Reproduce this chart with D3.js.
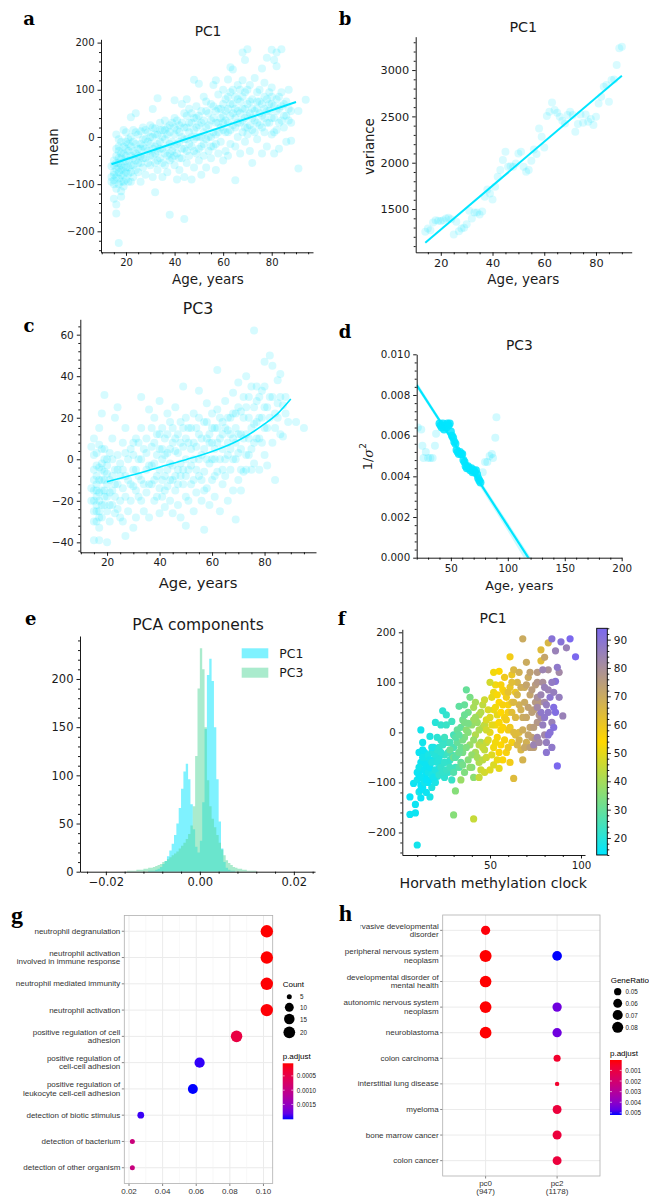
<!DOCTYPE html>
<html>
<head>
<meta charset="utf-8">
<script src="https://cdn.jsdelivr.net/npm/d3@7"></script>
<style>
body { margin: 0; background: #fff; }
svg { display: block; }
</style>
</head>
<body>
<svg id="fig" width="649" height="1197"></svg>
<script>
// ---------- data ----------
const CYAN = '#00e5ff'
const PC3_GREEN = '#55d79b'

// a: PC1 mean vs age  [age, pc1]
const aPoints = [
    [14,-85],[14,-62],[15,-100],[15,-75],[15,-50],[15,-92],[15,-131],[16,-143],[16,-162],[16,-110],[16,-68],[16,-40],[16,5],
    [17,-225],[17,-88],[17,-55],[17,-30],[17,-75],[17,-20],[18,-127],[18,-95],[18,-70],[18,-45],[18,-60],[18,-10],
    [19,-105],[19,-80],[19,-52],[19,-35],[19,15],[20,-90],[20,-65],[20,-40],[20,-25],[20,10],
    [21,-78],[21,-50],[21,-30],[21,-5],[22,-95],[22,-60],[22,-20],[22,42],[23,-85],[23,-45],[23,-10],[23,15],
    [24,-70],[24,-35],[24,50],[25,-55],[25,-25],[25,5],[26,-95],[26,-40],[26,-15],[26,12],[27,-65],[27,-20],[27,20],
    [28,-80],[28,-45],[28,-5],[29,-30],[29,10],[30,-60],[30,-15],[30,25],
    [31,59],[31,-85],[31,-40],[31,0],[32,-117],[32,-55],[32,-20],[32,18],[33,82],[33,-70],[33,-30],[33,5],
    [34,-10],[34,30],[34,-45],[35,-85],[35,-25],[35,15],[36,-60],[36,-5],[36,35],[37,-75],[37,-40],[37,20],
    [38,-165],[38,-50],[38,-15],[38,10],[39,-30],[39,30],[40,78],[40,-60],[40,-20],[40,5],[40,40],
    [41,-90],[41,-35],[41,15],[42,-70],[42,-10],[42,25],[43,-45],[43,0],[43,70],[44,-174],[44,-85],[44,-25],[44,20],
    [45,-55],[45,-5],[45,45],[45,80],[46,-40],[46,10],[46,60],[47,-90],[47,-20],[47,30],[48,121],[48,-65],[48,-5],[48,40],
    [49,-35],[49,20],[49,65],[50,113],[50,-50],[50,0],[50,45],
    [51,-80],[51,-20],[51,30],[52,-40],[52,10],[52,85],[53,-65],[53,-5],[53,55],[54,-30],[54,25],[55,-45],[55,0],[55,70],
    [56,110],[56,-20],[56,40],[57,120],[57,-70],[57,5],[57,55],[58,-35],[58,30],[58,90],[59,-10],[59,60],
    [60,-50],[60,15],[60,45],[60,100],
    [61,-30],[61,35],[61,80],[62,122],[62,-40],[62,10],[62,60],[63,148],[63,-15],[63,45],[63,95],[64,143],[64,25],[64,70],
    [65,-92],[65,-20],[65,40],[65,85],[66,0],[66,55],[66,110],[67,-35],[67,30],[67,75],[68,179],[68,10],[68,60],[68,120],
    [69,163],[69,-10],[69,40],[69,95],[70,186],[70,5],[70,20],[70,70],
    [71,-30],[71,50],[71,110],[72,-55],[72,15],[72,80],[73,35],[73,125],[74,-5],[74,60],[74,95],[75,25],[75,75],
    [76,145],[76,-35],[76,45],[77,10],[77,85],[77,115],[78,168],[78,-20],[78,55],[79,30],[79,95],[80,185],[80,5],[80,70],[80,105],
    [81,163],[81,-35],[81,40],[82,150],[82,179],[82,80],[82,15],[83,-25],[83,60],[84,186],[84,35],[84,95],
    [85,20],[85,70],[86,-10],[86,45],[87,100],[87,60],[88,-8],[88,30],[91,55],[91,-67],[94,79],
    [14,-95],[15,-60],[15,-80],[16,-85],[16,-55],[16,-25],[17,-100],[17,-65],[17,-45],[17,-5],[18,-80],[18,-35],[18,-115],
    [19,-95],[19,-65],[19,-20],[20,-75],[20,-50],[20,-10],[21,-95],[21,-65],[21,-15],[22,-75],[22,-40],[22,0],[23,-60],[23,-30],
    [24,-50],[24,-15],[24,10],[25,-75],[25,-40],[26,-55],[26,-25],[27,-45],[27,-5],[28,-25],[28,15],[29,-55],[29,-10],[30,-40],
    [30,0],[31,-25],[31,20],[32,-35],[32,5],[33,-50],[33,-15],[34,-25],[34,15],[35,-55],[35,0],[36,-35],[36,15],[37,-20],[37,5],
    [38,-35],[38,25],[39,-45],[39,-10],[40,-40],[40,20],[41,-15],[41,35],[42,-45],[42,10],[43,-25],[43,30],[44,-5],[44,50],
    [45,-30],[45,20],[46,-15],[46,30],[47,0],[47,50],[48,-30],[48,15],[49,0],[49,40],[50,-25],[50,25],[51,0],[51,55],[52,-15],
    [52,35],[53,20],[53,75],[54,0],[54,50],[55,-20],[55,35],[56,10],[56,65],[57,-15],[57,30],[58,10],[58,60],[59,20],[59,40],
    [60,30],[60,70],[61,10],[61,55],[62,30],[62,85],[63,15],[63,70],[64,50],[64,100],[65,20],[65,60],[66,30],[66,80],[67,50],
    [67,100],[68,35],[68,85],[69,60],[69,20],[70,45],[70,100],[71,25],[71,75],[72,40],[72,60],[73,10],[73,55],[74,30],[74,75],
    [75,50],[75,100],[76,20],[76,70],[77,40],[77,60],[78,80],[78,30],[79,55],[79,70],[80,40],[80,85],[81,65],[81,10],[82,55],
    [83,85],[83,30],[84,65],[85,45],[86,75],[87,35],[88,55],
]
const aFitAge = [14, 90]
const aFitMean = [-58, 74]

// b: PC1 variance per age year
const bAges = [14,15,16,17,18,19,20,21,22,23,24,25,26,27,28,29,30,31,32,33,34,35,36,37,38,39,40,41,42,43,44,45,46,47,48,49,50,
    51,52,53,54,55,56,57,58,59,60,61,62,63,64,65,66,67,68,69,70,71,72,73,74,75,76,77,78,79,80,81,82,83,84,85,86,87,88,89,90]
const bVariance = [1254,1290,1272,1355,1380,1373,1370,1380,1398,1405,1390,1225,1362,1261,1290,1297,1337,1481,1398,1463,1463,
    1441,1474,1632,1711,1668,1603,1740,1848,1920,2028,2118,1956,1963,1956,1992,2100,2118,1956,1902,1920,2021,2143,2093,2370,
    2280,2165,2503,2550,2651,2568,2539,2496,2453,2424,2514,2550,2514,2334,2417,2521,2431,2521,2442,2471,2406,2496,2640,2712,
    2820,2838,2658,2892,2899,3054,3234,3252]
const bFitAge = [14, 90]
const bFitVar = [1135, 2939]

// c: PC3 mean vs age  [age, pc3]
const cPoints = [
    [14,6],[14,-14],[15,-25],[15,-15],[15,-5],[15,2],[15,-39],[15,-20],[15,10],[16,-30],[16,-18],[16,-8],[16,-22],[16,3],[16,-12],
    [17,-39],[17,-33],[17,-25],[17,-16],[17,-4],[17,15],[17,7],[18,-22],[18,-10],[18,-2],[18,-28],[18,22],
    [19,31],[19,-15],[19,-6],[19,5],[19,-18],[20,-40],[20,-25],[20,-12],[20,0],[20,-7],
    [21,-30],[21,-16],[21,3],[22,-22],[22,-8],[22,10],[23,-26],[23,-12],[23,20],[24,-24],[24,-5],[24,25],[25,-20],[25,-2],
    [26,-30],[26,-14],[26,8],[27,-37],[27,-18],[27,3],[27,15],[28,-10],[28,-25],[29,-20],[29,5],[30,-33],[30,-13],[30,2],[30,8],
    [31,-28],[31,-5],[31,10],[32,-18],[32,0],[33,30],[33,-10],[33,15],[34,-25],[34,5],[35,-16],[35,10],[36,-28],[36,-3],[36,24],
    [37,-12],[37,6],[38,-20],[38,-2],[38,20],[39,-8],[39,12],[40,-26],[40,-14],[40,5],[40,28],
    [41,-18],[41,0],[41,15],[42,-23],[42,-8],[42,10],[43,-13],[43,3],[43,22],[44,-20],[44,-2],[44,18],[45,-26],[45,-10],[45,8],
    [46,-15],[46,4],[46,25],[47,-22],[47,-5],[47,12],[48,-28],[48,-8],[48,18],[49,35],[49,-12],[49,6],[50,-32],[50,-18],[50,0],[50,20],
    [51,-20],[51,8],[52,-12],[52,15],[53,-25],[53,0],[53,22],[54,-16],[54,6],[55,33],[55,-8],[55,12],[56,-20],[56,2],
    [57,-34],[57,-6],[57,18],[58,-14],[58,10],[58,27],[59,-22],[59,-2],[60,-10],[60,8],[60,22],
    [61,-18],[61,0],[61,15],[62,43],[62,-6],[62,24],[63,-25],[63,10],[64,-12],[64,5],[64,18],[65,-8],[65,28],[66,-20],[66,2],[66,14],
    [67,-5],[67,20],[68,-15],[68,10],[68,32],[69,-29],[69,0],[69,22],[70,-10],[70,12],[70,37],
    [71,-15],[71,5],[71,23],[72,-6],[72,30],[73,-5],[73,12],[73,40],[74,2],[74,20],[75,5],[75,35],[76,62],[76,-2],[76,17],
    [77,10],[77,28],[78,-5],[78,20],[79,8],[79,33],[80,47],[80,2],[80,25],
    [81,15],[81,-3],[82,50],[82,30],[83,45],[83,8],[84,-10],[84,22],[85,27],[85,38],[86,12],[86,41],[87,11],[87,26],
    [88,30],[89,18],[92,18],[95,15],
    [14,-20],[15,-10],[15,-30],[16,-15],[16,-3],[16,-25],[17,-10],[17,-20],[17,-28],[18,-15],[18,-5],[18,5],[19,-10],[19,-22],
    [19,0],[20,-18],[20,-3],[21,-10],[21,-22],[22,-15],[22,0],[23,-5],[23,-18],[24,-12],[24,2],[25,-8],[25,-28],[26,-5],[27,-8],
    [28,0],[29,-12],[30,-5],[31,-15],[32,-8],[32,8],[33,-20],[33,0],[34,-12],[35,-5],[35,3],[36,-12],[37,-3],[37,15],[38,-10],
    [38,8],[39,-18],[39,2],[40,-5],[40,12],[41,-10],[41,5],[42,-15],[42,2],[43,-5],[43,12],[44,-10],[44,5],[45,-3],[45,15],
    [46,-8],[46,10],[47,-12],[47,3],[48,-2],[48,8],[49,-5],[49,15],[50,-8],[50,10],[51,-5],[51,15],[52,-3],[52,5],[53,-10],
    [53,8],[54,-5],[54,15],[55,0],[55,20],[56,-10],[56,10],[57,5],[57,-15],[58,0],[58,18],[59,8],[59,12],[60,0],[60,15],[61,5],
    [61,-8],[62,8],[62,15],[63,0],[63,20],[64,-5],[64,12],[65,0],[65,15],[66,8],[66,20],[67,5],[67,12],[68,0],[68,22],[69,8],
    [69,15],[70,3],[70,25],[71,12],[71,-5],[72,10],[72,20],[73,2],[73,25],[74,10],[74,30],[75,15],[75,-5],[76,8],[76,25],
    [77,18],[77,35],[78,10],[78,30],[79,20],[80,15],[80,35],[81,25],[82,20],[83,30],[84,15],[85,20],[86,30],[88,22],
]
const cFitAge = [20, 30, 40, 50, 60, 70, 80, 85, 90]
const cFitPc3 = [-10.8, -7.5, -3.8, -0.2, 3.7, 9.0, 17.0, 22.0, 29.0]

// d: PC3 1/sigma^2 vs age
const dUsed = [
    [40,0.0066],[41,0.0065],[42,0.0064],[43,0.0066],[44,0.0063],[45,0.0065],[46,0.0064],[47,0.0066],[48,0.0065],[49,0.0066],
    [50,0.0062],[51,0.0060],[52,0.0059],[53,0.0057],[54,0.0056],[55,0.0053],[56,0.0052],[57,0.0051],[58,0.0052],[59,0.0051],
    [60,0.0051],[61,0.0048],[62,0.0047],[63,0.0045],[64,0.0044],[65,0.0045],[66,0.0044],[67,0.0043],[68,0.0044],[69,0.0042],
    [70,0.0043],[71,0.0042],[72,0.0043],[73,0.0041],[74,0.0039],[75,0.0038],[76,0.0037],
]
const dOther = [
    [21,0.0064],[24,0.0063],[25,0.0055],[26,0.0049],[28,0.0052],[30,0.0049],[32,0.0049],[34,0.0049],[36,0.0055],[37,0.0061],
    [78,0.0042],[80,0.0047],[82,0.0047],[84,0.0050],[86,0.0051],[87,0.0049],[89,0.0059],[90,0.0069],
]
const dFitAge = [20, 121]
const dFitInv = [0.00849, -0.00026]
const dBandAge = [20, 50, 80, 100, 122]
const dBandLo = [0.00835, 0.00575, 0.00310, 0.00130, -0.00075]
const dBandHi = [0.00865, 0.00600, 0.00345, 0.00175, -0.00015]

// e: histogram of component loadings
const histStart = -0.016
const histWidth = 0.0005
const pc1Counts = [0,0,0,0,0,0,0,0,0,0,1,1,1,2,3,5,8,11,16,22,29,38,50,66,86,104,112,96,70,44,26,20,
    32,72,148,204,221,198,150,96,52,24,10,4,2,1,1,0,0,0,0,0,0,0,0,0,0,0,0,0]
const pc3Counts = [0,1,1,1,1,2,2,2,3,3,4,4,5,6,7,8,10,11,13,15,17,19,21,24,27,30,34,39,48,68,120,190,
    232,210,150,95,68,55,46,38,30,23,17,12,9,7,5,4,3,3,2,2,1,1,1,1,0,0,0,0]
const eLegend = ['PC1', 'PC3']

// f: PC1 vs Horvath clock, coloured by age  [clock, pc1, age]
const fPoints = [
    [10,-225,17],[6,-164,16],[9,-161,16],[9,-144,16],[6,-129,15],[12,-131,15],[17,-129,18],[11,-119,18],[8,-102,16],[10,-95,17],
    [12,-105,15],[14,-90,16],[13,-75,17],[15,-82,15],[16,-65,18],[17,-95,17],[18,-110,19],[19,-78,20],[20,-58,18],[21,-88,19],
    [15,-50,19],[18,-40,20],[22,-30,22],[24,-62,21],[23,-15,22],[25,-45,23],[26,-20,22],[14,-62,17],[16,-100,15],[19,-55,19],
    [20,-100,18],[11,-85,15],[12,-60,16],[22,-72,20],[25,-90,21],[27,-80,22],[28,-55,24],[21,-10,21],[11,-40,16],[13,-20,17],
    [12,5,17],[17,-8,19],[20,20,20],[23,15,22],[26,15,23],[29,22,24],[26,35,22],[24,43,21],[30,-5,25],[31,-70,24],[29,-95,23],
    [27,-60,22],[19,-30,18],[14,-40,16],[22,-48,20],
    [10,-80,16],[11,-70,17],[12,-90,16],[13,-110,15],[13,-50,17],[14,-75,16],[14,-100,17],[15,-65,16],[15,-95,15],[16,-80,17],
    [16,-45,18],[17,-70,16],[17,-55,17],[18,-85,18],[18,-60,19],[19,-90,17],[19,-40,20],[20,-75,19],[20,-45,20],[21,-60,20],
    [21,-35,21],[22,-85,21],[22,-55,20],[23,-70,22],[23,-40,21],[24,-80,22],[24,-25,23],[25,-60,22],[25,-10,24],[26,-75,23],
    [27,-40,24],[28,-20,25],[28,-70,24],[29,-45,25],[30,-30,26],[30,-80,27],[12,-115,15],[15,-120,16],[18,-30,18],[13,-35,16],
    [30,-165,35],[31,-117,35],[34,-95,38],[28,-35,30],[30,-50,32],[32,-20,30],[33,-70,28],[35,-40,33],[36,-10,34],[34,10,30],
    [37,5,36],[35,25,32],[38,-55,35],[39,-25,38],[40,15,37],[38,40,32],[36,55,30],[37,85,30],[41,50,40],[42,-40,40],[40,-70,34],
    [42,-5,42],[44,-60,42],[43,20,38],[45,-20,40],[44,35,43],[41,-90,36],[46,10,41],[45,-75,46],[46,55,44],[39,70,33],[33,52,29],
    [36,-80,34],[32,-45,29],[34,-30,31],[47,-35,44],[42,30,39],[31,-10,28],
    [31,-50,28],[32,5,30],[33,-40,31],[34,-60,30],[35,-15,33],[36,20,33],[37,-30,34],[38,0,35],[39,-70,36],[40,-45,37],
    [41,-15,38],[41,25,39],[42,60,40],[43,-50,40],[44,5,41],[44,-25,43],[45,40,42],[46,-55,43],[47,15,44],[48,-20,45],
    [36,35,31],[38,18,33],[33,-5,29],[35,-65,32],
    [41,-173,45],[44,-90,45],[47,-80,47],[50,-75,49],[52,-65,48],[55,-72,50],[48,-50,46],[52,-30,52],[54,-10,53],[56,5,55],
    [50,0,50],[48,25,48],[52,45,51],[55,60,54],[57,85,55],[53,95,52],[55,122,54],[58,30,57],[60,55,56],[61,151,58],[62,115,60],
    [59,-40,56],[57,-55,55],[49,-15,48],[51,70,50],[47,65,46],[60,5,58],[62,-20,57],[58,110,59],[63,-92,64],[46,-30,45],
    [53,15,52],[56,-25,54],[61,-60,58],[64,80,60],[59,70,58],[50,100,47],[54,35,50],
    [48,5,47],[49,45,48],[50,30,49],[51,-45,49],[51,15,50],[52,80,51],[53,-20,52],[53,50,52],[54,75,53],[55,20,53],[55,-40,55],
    [56,40,54],[56,95,56],[57,10,55],[57,55,56],[58,-15,56],[58,80,57],[59,25,58],[60,40,57],[60,-30,59],[61,90,60],[61,10,59],
    [62,60,60],[52,120,52],[54,-55,51],
    [60,80,62],[63,125,65],[65,100,66],[66,55,68],[68,187,70],[68,30,70],[70,-20,68],[67,-35,66],[72,10,72],[72,75,72],
    [64,-5,64],[70,140,70],[74,45,74],[66,0,64],[68,-55,67],[71,110,70],[75,95,75],[73,-10,73],[77,60,76],[62,40,63],
    [69,90,69],[76,120,76],[78,165,64],[78,143,63],[82,179,66],[80,150,72],[76,20,77],[65,-25,66],[74,-30,74],
    [62,100,63],[63,0,64],[63,60,65],[64,30,65],[65,75,66],[66,-15,67],[66,120,68],[67,45,68],[67,90,69],[68,5,69],[69,60,70],
    [69,-30,71],[70,30,71],[70,95,72],[71,50,73],[71,-5,72],[72,120,73],[72,-30,74],[73,40,74],[73,85,75],[74,10,75],[75,60,76],
    [75,-15,77],[76,100,77],[77,35,78],
    [78,30,80],[80,60,82],[82,85,84],[84,20,85],[76,-10,84],[86,102,90],[84,-30,88],[80,-5,82],[88,70,86],[90,33,85],
    [87,-67,94],[92,169,85],[94,187,94],[97,151,94],[84,187,90],[89,181,90],[86,163,85],[78,40,88],[82,125,80],[79,100,80],
    [81,-20,86],[85,50,92],[76,70,80],[83,0,90],[88,120,82],[74,-25,84],
    [77,-20,82],[78,75,84],[79,15,86],[80,90,85],[80,30,88],[81,55,86],[82,-5,90],[82,40,88],[83,70,89],[84,100,87],[85,10,91],
    [85,80,86],[86,40,92],[87,130,88],[76,50,82],[79,125,84],[81,-40,89],
]
const fAgeRange = [14, 94]
const fColormap = ['#00e5ff', '#ffd700', '#7b68ee']

// g: GO enrichment
const gTerms = [
    'neutrophil degranulation',
    'neutrophil activation\ninvolved in immune response',
    'neutrophil mediated immunity',
    'neutrophil activation',
    'positive regulation of cell\nadhesion',
    'positive regulation of\ncell-cell adhesion',
    'positive regulation of\nleukocyte cell-cell adhesion',
    'detection of biotic stimulus',
    'detection of bacterium',
    'detection of other organism',
]
const gRatio = [0.102, 0.102, 0.102, 0.102, 0.084, 0.062, 0.058, 0.027, 0.022, 0.022]
const gCount = [23, 23, 23, 23, 19, 14, 13, 6, 5, 5]
const gPadj = [0.00006, 0.00006, 0.00007, 0.00008, 0.00045, 0.00197, 0.00202, 0.00195, 0.00092, 0.00095]
const gXTicks = [0.02, 0.04, 0.06, 0.08, 0.10]
const gXMinor = [0.03, 0.05, 0.07, 0.09]
const gCountLegend = [5, 10, 15, 20]
const gPadjLegend = [0.0005, 0.0010, 0.0015]

// h: disease enrichment per component
const hTerms = [
    'pervasive developmental\ndisorder',
    'peripheral nervous system\nneoplasm',
    'developmental disorder of\nmental health',
    'autonomic nervous system\nneoplasm',
    'neuroblastoma',
    'colon carcinoma',
    'interstitial lung disease',
    'myeloma',
    'bone marrow cancer',
    'colon cancer',
]
const hClusters = ['pc0\n(947)', 'pc2\n(1178)']
const hDotTerm = [0, 1, 2, 3, 4, 1, 3, 4, 5, 6, 7, 8, 9]
const hDotCluster = [0, 0, 0, 0, 0, 1, 1, 1, 1, 1, 1, 1, 1]
const hDotRatio = [0.062, 0.091, 0.087, 0.088, 0.088, 0.066, 0.063, 0.063, 0.049, 0.043, 0.060, 0.061, 0.060]
const hDotPadj = [0.0001, 0.00002, 0.00003, 0.00003, 0.00003, 0.0052, 0.0045, 0.0045, 0.0006, 0.0006, 0.0009, 0.0009, 0.0009]
const hRatioLegend = [0.05, 0.06, 0.07, 0.08]
const hPadjLegend = [0.001, 0.002, 0.003, 0.004, 0.005]

// ---------- helpers ----------
const svg = d3.select('#fig')
const MPL_FONT = 'DejaVu Sans'
const GG_FONT = 'Liberation Sans'

function minorTicks(domain, step, majors) {
    const [d0, d1] = d3.extent(domain)
    return d3.range(Math.ceil(d0 / step) * step, d1 + step * 1e-6, step)
        .filter(v => !majors.some(m => Math.abs(m - v) < step / 10))
}

function text(parent, str, x, y, size, opts = {}) {
    return parent.append('text')
        .attr('x', x).attr('y', y)
        .attr('font-family', opts.family || MPL_FONT)
        .attr('font-size', size)
        .attr('font-weight', opts.weight || null)
        .attr('text-anchor', opts.anchor || 'middle')
        .attr('dominant-baseline', 'central')
        .attr('fill', opts.fill || '#1a1a1a')
        .attr('transform', opts.rotate ? `rotate(-90,${x},${y})` : null)
        .text(str)
}

function panelLetter(str, x, y, size = 18) {
    text(svg, str, x, y, size, { family: 'DejaVu Serif', weight: 'bold', fill: '#000' })
}

function mplPanel(o) {
    const g = svg.append('g')
    const x = d3.scaleLinear().domain(o.xDomain).range([o.left, o.right])
    const y = d3.scaleLinear().domain(o.yDomain).range([o.bottom, o.top])
    const clipId = 'clip' + Math.round(o.left) + '_' + Math.round(o.top)
    g.append('clipPath').attr('id', clipId)
        .append('rect')
        .attr('x', o.left).attr('y', o.top)
        .attr('width', o.right - o.left).attr('height', o.bottom - o.top)
    const plot = g.append('g').attr('clip-path', `url(#${clipId})`)
    return { g, plot, x, y, o }
}

function mplAxes(panel) {
    const { g, x, y, o } = panel
    const xg = g.append('g').attr('transform', `translate(0,${o.bottom})`)
    xg.call(d3.axisBottom(x).tickValues(o.xTicks).tickFormat(o.xFmt).tickSize(3.5).tickSizeOuter(0).tickPadding(3))
    xg.append('g').call(d3.axisBottom(x).tickValues(minorTicks(o.xDomain, o.xMinor, o.xTicks))
        .tickFormat(() => '').tickSize(2).tickSizeOuter(0))
        .call(s => s.select('.domain').remove())

    const yg = g.append('g').attr('transform', `translate(${o.left},0)`)
    yg.call(d3.axisLeft(y).tickValues(o.yTicks).tickFormat(o.yFmt).tickSize(3.5).tickSizeOuter(0).tickPadding(3))
    yg.append('g').call(d3.axisLeft(y).tickValues(minorTicks(o.yDomain, o.yMinor, o.yTicks))
        .tickFormat(() => '').tickSize(2).tickSizeOuter(0))
        .call(s => s.select('.domain').remove())

    g.selectAll('.tick text')
        .attr('font-family', MPL_FONT)
        .attr('font-size', o.tickFont)
        .attr('fill', '#1a1a1a')
    g.selectAll('.domain, .tick line').attr('stroke', '#000').attr('stroke-width', 0.9)
}

// ---------- a ----------
{
    const p = mplPanel({
        left: 101, right: 313, top: 39.3, bottom: 252.3,
        xDomain: [9.7, 97.0], yDomain: [-244.5, 207],
        xTicks: [20, 40, 60, 80], yTicks: [-200, -100, 0, 100, 200],
        xMinor: 5, yMinor: 20, xFmt: d3.format('d'), yFmt: d3.format('d'), tickFont: 10,
    })
    p.plot.selectAll('circle').data(aPoints).join('circle')
        .attr('cx', d => p.x(d[0])).attr('cy', d => p.y(d[1])).attr('r', 4)
        .attr('fill', CYAN).attr('fill-opacity', 0.16)
    p.plot.append('path')
        .datum(d3.zip(aFitAge, aFitMean))
        .attr('d', d3.line().x(d => p.x(d[0])).y(d => p.y(d[1])))
        .attr('stroke', CYAN).attr('stroke-width', 2).attr('fill', 'none')
    mplAxes(p)
    text(svg, 'PC1', 208, 31, 13.8)
    text(svg, 'mean', 53, 147, 13.2, { rotate: true })
    text(svg, 'Age, years', 208, 279, 13.5)
    panelLetter('a', 29, 18)
}

// ---------- b ----------
{
    const p = mplPanel({
        left: 415.7, right: 631.7, top: 36.7, bottom: 252.3,
        xDomain: [10.3, 93.8], yDomain: [1033, 3360],
        xTicks: [20, 40, 60, 80], yTicks: [1500, 2000, 2500, 3000],
        xMinor: 5, yMinor: 100, xFmt: d3.format('d'), yFmt: d3.format('d'), tickFont: 11.3,
    })
    p.plot.selectAll('circle').data(d3.zip(bAges, bVariance)).join('circle')
        .attr('cx', d => p.x(d[0])).attr('cy', d => p.y(d[1])).attr('r', 4)
        .attr('fill', CYAN).attr('fill-opacity', 0.15)
    p.plot.append('path')
        .datum(d3.zip(bFitAge, bFitVar))
        .attr('d', d3.line().x(d => p.x(d[0])).y(d => p.y(d[1])))
        .attr('stroke', CYAN).attr('stroke-width', 2).attr('fill', 'none')
    mplAxes(p)
    text(svg, 'PC1', 523.3, 26.7, 14.3)
    text(svg, 'variance', 369.3, 146.7, 13.2, { rotate: true })
    text(svg, 'Age, years', 523.3, 279.3, 13.5)
    panelLetter('b', 345, 18.3)
}

// ---------- c ----------
{
    const p = mplPanel({
        left: 80.3, right: 316, top: 319.3, bottom: 552.3,
        xDomain: [9.8, 99.6], yDomain: [-44.8, 67.4],
        xTicks: [20, 40, 60, 80], yTicks: [-40, -20, 0, 20, 40, 60],
        xMinor: 5, yMinor: 4, xFmt: d3.format('d'), yFmt: d3.format('d'), tickFont: 10.5,
    })
    p.plot.selectAll('circle').data(cPoints).join('circle')
        .attr('cx', d => p.x(d[0])).attr('cy', d => p.y(d[1])).attr('r', 4)
        .attr('fill', CYAN).attr('fill-opacity', 0.16)
    p.plot.append('path')
        .datum(d3.zip(cFitAge, cFitPc3))
        .attr('d', d3.line().curve(d3.curveMonotoneX).x(d => p.x(d[0])).y(d => p.y(d[1])))
        .attr('stroke', CYAN).attr('stroke-width', 1.6).attr('fill', 'none')
    mplAxes(p)
    text(svg, 'PC3', 198, 308, 15.8)
    text(svg, 'Age, years', 198, 582.7, 14.8)
    panelLetter('c', 29, 325)
}

// ---------- d ----------
{
    const p = mplPanel({
        left: 416.7, right: 621.7, top: 354.3, bottom: 557.7,
        xDomain: [20, 200], yDomain: [0, 0.010],
        xTicks: [50, 100, 150, 200], yTicks: [0, 0.002, 0.004, 0.006, 0.008, 0.010],
        xMinor: 10, yMinor: 0.0004, xFmt: d3.format('d'), yFmt: d3.format('.3f'), tickFont: 10.3,
    })
    p.plot.append('path')
        .datum(d3.zip(dBandAge, dBandLo, dBandHi))
        .attr('d', d3.area().x(d => p.x(d[0])).y0(d => p.y(d[1])).y1(d => p.y(d[2])))
        .attr('fill', CYAN).attr('fill-opacity', 0.2)
    p.plot.append('g').selectAll('circle').data(dOther).join('circle')
        .attr('cx', d => p.x(d[0])).attr('cy', d => p.y(d[1])).attr('r', 4)
        .attr('fill', CYAN).attr('fill-opacity', 0.18)
    p.plot.append('path')
        .datum(d3.zip(dFitAge, dFitInv))
        .attr('d', d3.line().x(d => p.x(d[0])).y(d => p.y(d[1])))
        .attr('stroke', CYAN).attr('stroke-width', 2.2).attr('fill', 'none')
    p.plot.append('g').selectAll('circle').data(dUsed).join('circle')
        .attr('cx', d => p.x(d[0])).attr('cy', d => p.y(d[1])).attr('r', 4)
        .attr('fill', CYAN).attr('fill-opacity', 0.85)
    mplAxes(p)
    text(svg, 'PC3', 519.3, 345, 13.8)
    const yl = text(svg, '1/', 368, 456.7, 13, { rotate: true })
    yl.append('tspan').attr('font-style', 'italic').attr('font-family', 'DejaVu Serif').text('σ')
    yl.append('tspan').attr('font-size', 9).attr('dy', -5).text('2')
    text(svg, 'Age, years', 519.3, 585, 12.8)
    panelLetter('d', 345, 331.7)
}

// ---------- e ----------
{
    const p = mplPanel({
        left: 80, right: 315, top: 636, bottom: 871.7,
        xDomain: [-0.0255, 0.0245], yDomain: [0, 244.6],
        xTicks: [-0.02, 0, 0.02], yTicks: [0, 50, 100, 150, 200],
        xMinor: 0.004, yMinor: 10, xFmt: d3.format('.2f'), yFmt: d3.format('d'), tickFont: 11.5,
    })
    const area = d3.area().curve(d3.curveStepAfter)
        .x(d => p.x(d[0])).y0(p.y(0)).y1(d => p.y(d[1]))
    const steps = counts => {
        const pts = counts.map((c, i) => [histStart + i * histWidth, c])
        pts.push([histStart + counts.length * histWidth, counts[counts.length - 1]])
        return pts
    }
    p.plot.append('path').datum(steps(pc1Counts)).attr('d', area)
        .attr('fill', CYAN).attr('fill-opacity', 0.5)
    p.plot.append('path').datum(steps(pc3Counts)).attr('d', area)
        .attr('fill', PC3_GREEN).attr('fill-opacity', 0.5)
    mplAxes(p)

    const leg = svg.append('g')
    eLegend.forEach((name, i) => {
        const cy = 653.3 + i * 19.4
        leg.append('rect').attr('x', 241.7).attr('y', cy - 5).attr('width', 26.6).attr('height', 10)
            .attr('fill', i === 0 ? CYAN : PC3_GREEN).attr('fill-opacity', 0.5)
        text(leg, name, 279.3, cy, 12.4, { anchor: 'start' })
    })
    text(svg, 'PCA components', 198, 625, 15.5)
    panelLetter('e', 30.7, 618)
}

// ---------- f ----------
{
    const p = mplPanel({
        left: 402.3, right: 585, top: 629.3, bottom: 855,
        xDomain: [1.8, 102.2], yDomain: [-245, 206],
        xTicks: [50, 100], yTicks: [-200, -100, 0, 100, 200],
        xMinor: 10, yMinor: 20, xFmt: d3.format('d'), yFmt: d3.format('d'), tickFont: 10.3,
    })
    const color = d3.scaleLinear()
        .domain([fAgeRange[0], (fAgeRange[0] + fAgeRange[1]) / 2, fAgeRange[1]])
        .range(fColormap)
    p.plot.selectAll('circle').data(fPoints).join('circle')
        .attr('cx', d => p.x(d[0])).attr('cy', d => p.y(d[1])).attr('r', 3.6)
        .attr('fill', d => color(d[2]))
    mplAxes(p)

    // colorbar
    const cb = { left: 596.7, right: 607.3, top: 628.3, bottom: 855 }
    const cy = d3.scaleLinear().domain(fAgeRange).range([cb.bottom, cb.top])
    const grad = svg.append('defs').append('linearGradient')
        .attr('id', 'fGrad').attr('x1', 0).attr('y1', 1).attr('x2', 0).attr('y2', 0)
    fColormap.forEach((c, i) => {
        grad.append('stop').attr('offset', i / (fColormap.length - 1)).attr('stop-color', c)
    })
    svg.append('rect').attr('x', cb.left).attr('y', cb.top)
        .attr('width', cb.right - cb.left).attr('height', cb.bottom - cb.top)
        .attr('fill', 'url(#fGrad)').attr('stroke', '#000').attr('stroke-width', 0.9)
    const cbTicks = [20, 30, 40, 50, 60, 70, 80, 90]
    const cg = svg.append('g').attr('transform', `translate(${cb.right},0)`)
    cg.call(d3.axisRight(cy).tickValues(cbTicks).tickFormat(d3.format('d')).tickSize(3.5).tickSizeOuter(0).tickPadding(3))
    cg.append('g').call(d3.axisRight(cy).tickValues(minorTicks(fAgeRange, 2, cbTicks))
        .tickFormat(() => '').tickSize(2).tickSizeOuter(0))
    cg.selectAll('.domain').remove()
    cg.selectAll('.tick text').attr('font-family', MPL_FONT).attr('font-size', 10.5).attr('fill', '#1a1a1a')
    cg.selectAll('.tick line').attr('stroke', '#000').attr('stroke-width', 0.9)

    text(svg, 'PC1', 493, 618.3, 14)
    text(svg, 'Horvath methylation clock', 493.3, 883, 14.2)
    panelLetter('f', 341.7, 618)
}

// ---------- ggplot dot panels ----------
function ggSize(domain, range) {
    const [d0, d1] = domain
    return v => range[0] + (range[1] - range[0]) * Math.sqrt((v - d0) / (d1 - d0))
}

function multiline(parent, str, x, y, size, anchor, fill, lineGap) {
    const lines = str.split('\n')
    lines.forEach((ln, i) => {
        text(parent, ln, x, y + (i - (lines.length - 1) / 2) * lineGap, size,
            { family: GG_FONT, anchor, fill })
    })
}

function ggFrame(o, rowLabels) {
    const g = svg.append('g')
    const y = d3.scalePoint().domain(d3.range(rowLabels.length)).range([o.top, o.bottom]).padding(0.6)
    g.append('rect').attr('x', o.left).attr('y', o.top)
        .attr('width', o.right - o.left).attr('height', o.bottom - o.top)
        .attr('fill', '#fff')
    const grid = g.append('g')
    rowLabels.forEach((lab, i) => {
        grid.append('line').attr('x1', o.left).attr('x2', o.right)
            .attr('y1', y(i)).attr('y2', y(i)).attr('stroke', '#ebebeb').attr('stroke-width', 1)
        g.append('line').attr('x1', o.left - 2.5).attr('x2', o.left)
            .attr('y1', y(i)).attr('y2', y(i)).attr('stroke', '#333').attr('stroke-width', 0.6)
        multiline(g, lab, o.left - 4, y(i), 8, 'end', '#333', 8.3)
    })
    return { g, grid, y }
}

function ggColorbar(o, domain, ticks, fmt) {
    const cy = d3.scaleLinear().domain(domain).range([o.top, o.bottom])
    const id = 'gg' + Math.round(o.left)
    const grad = svg.append('defs').append('linearGradient')
        .attr('id', id).attr('x1', 0).attr('y1', 0).attr('x2', 0).attr('y2', 1)
    d3.range(0, 1.0001, 0.1).forEach(t => {
        grad.append('stop').attr('offset', t).attr('stop-color', d3.interpolateLab('red', 'blue')(t))
    })
    svg.append('rect').attr('x', o.left).attr('y', o.top)
        .attr('width', o.right - o.left).attr('height', o.bottom - o.top)
        .attr('fill', `url(#${id})`)
    ticks.forEach(t => {
        const yy = cy(t)
        svg.append('line').attr('x1', o.left).attr('x2', o.left + 2).attr('y1', yy).attr('y2', yy)
            .attr('stroke', '#fff').attr('stroke-width', 0.6)
        svg.append('line').attr('x1', o.right - 2).attr('x2', o.right).attr('y1', yy).attr('y2', yy)
            .attr('stroke', '#fff').attr('stroke-width', 0.6)
        text(svg, fmt(t), o.right + 3.5, yy, 6.3, { family: GG_FONT, anchor: 'start', fill: '#222' })
    })
}

// ---------- g ----------
{
    const o = { left: 124.3, right: 272.7, top: 915.5, bottom: 1183.5 }
    const x = d3.scaleLinear().domain([0.0172, 0.1055]).range([o.left, o.right])
    const f = ggFrame(o, gTerms)
    gXMinor.forEach(v => {
        f.grid.append('line').attr('x1', x(v)).attr('x2', x(v)).attr('y1', o.top).attr('y2', o.bottom)
            .attr('stroke', '#f4f4f4').attr('stroke-width', 0.6)
    })
    gXTicks.forEach(v => {
        f.grid.append('line').attr('x1', x(v)).attr('x2', x(v)).attr('y1', o.top).attr('y2', o.bottom)
            .attr('stroke', '#ebebeb').attr('stroke-width', 1)
        f.g.append('line').attr('x1', x(v)).attr('x2', x(v)).attr('y1', o.bottom).attr('y2', o.bottom + 2.5)
            .attr('stroke', '#333').attr('stroke-width', 0.6)
        text(f.g, d3.format('.2f')(v), x(v), o.bottom + 8, 8, { family: GG_FONT, fill: '#333' })
    })
    f.g.append('rect').attr('x', o.left).attr('y', o.top)
        .attr('width', o.right - o.left).attr('height', o.bottom - o.top)
        .attr('fill', 'none').attr('stroke', '#b0b0b0').attr('stroke-width', 0.8)

    const size = ggSize(d3.extent(gCount), [2.5, 6.2])
    const col = d3.scaleLinear().domain(d3.extent(gPadj)).range([0, 1])
    f.g.selectAll('circle.dot').data(d3.range(gTerms.length)).join('circle')
        .attr('class', 'dot')
        .attr('cx', i => x(gRatio[i])).attr('cy', i => f.y(i))
        .attr('r', i => size(gCount[i]))
        .attr('fill', i => d3.interpolateLab('red', 'blue')(col(gPadj[i])))

    text(svg, 'Count', 282.7, 984.3, 8, { family: GG_FONT, anchor: 'start', fill: '#000' })
    const legY = [996.7, 1007.3, 1019, 1032.3]
    gCountLegend.forEach((c, i) => {
        svg.append('circle').attr('cx', 289.3).attr('cy', legY[i]).attr('r', size(c)).attr('fill', '#000')
        text(svg, String(c), 300, legY[i], 6.3, { family: GG_FONT, anchor: 'start', fill: '#222' })
    })
    text(svg, 'p.adjust', 282.7, 1056.7, 8, { family: GG_FONT, anchor: 'start', fill: '#000' })
    ggColorbar({ left: 282.7, right: 293.3, top: 1063.3, bottom: 1119.3 },
        d3.extent(gPadj), gPadjLegend, d3.format('.4f'))

    text(svg, 'g', 17, 915, 24, { family: 'Liberation Serif', weight: 'bold', fill: '#000' })
}

// ---------- h ----------
{
    const o = { left: 442.7, right: 600, top: 915, bottom: 1176 }
    const x = d3.scalePoint().domain(d3.range(hClusters.length)).range([o.left, o.right]).padding(0.6)
    const f = ggFrame(o, hTerms)
    hClusters.forEach((c, i) => {
        f.grid.append('line').attr('x1', x(i)).attr('x2', x(i)).attr('y1', o.top).attr('y2', o.bottom)
            .attr('stroke', '#ebebeb').attr('stroke-width', 1)
        f.g.append('line').attr('x1', x(i)).attr('x2', x(i)).attr('y1', o.bottom).attr('y2', o.bottom + 2.5)
            .attr('stroke', '#333').attr('stroke-width', 0.6)
        multiline(f.g, c, x(i), o.bottom + 11.3, 8, 'middle', '#333', 7.8)
    })
    f.g.append('rect').attr('x', o.left).attr('y', o.top)
        .attr('width', o.right - o.left).attr('height', o.bottom - o.top)
        .attr('fill', 'none').attr('stroke', '#b0b0b0').attr('stroke-width', 0.8)

    const size = ggSize(d3.extent(hDotRatio), [2.2, 6])
    const padjDomain = [0.00002, 0.0052]
    const col = d3.scaleLinear().domain(padjDomain).range([0, 1])
    f.g.selectAll('circle.dot').data(d3.range(hDotTerm.length)).join('circle')
        .attr('class', 'dot')
        .attr('cx', i => x(hDotCluster[i])).attr('cy', i => f.y(hDotTerm[i]))
        .attr('r', i => size(hDotRatio[i]))
        .attr('fill', i => d3.interpolateLab('red', 'blue')(col(hDotPadj[i])))

    text(svg, 'GeneRatio', 610.7, 980, 8, { family: GG_FONT, anchor: 'start', fill: '#000' })
    const legY = [991.7, 1003.3, 1015, 1027.3]
    hRatioLegend.forEach((r, i) => {
        svg.append('circle').attr('cx', 617.7).attr('cy', legY[i]).attr('r', size(r)).attr('fill', '#000')
        text(svg, d3.format('.2f')(r), 625.5, legY[i], 6.3, { family: GG_FONT, anchor: 'start', fill: '#222' })
    })
    text(svg, 'p.adjust', 610, 1053.3, 8, { family: GG_FONT, anchor: 'start', fill: '#000' })
    ggColorbar({ left: 610, right: 621.7, top: 1060, bottom: 1115 },
        padjDomain, hPadjLegend, d3.format('.3f'))

    // the panel letter sits on a white box that hides the start of the first label
    svg.append('rect').attr('x', 322).attr('y', 905).attr('width', 38.5).attr('height', 33).attr('fill', '#fff')
    text(svg, 'h', 345.5, 913, 24, { family: 'Liberation Serif', weight: 'bold', fill: '#000' })
}
</script>
</body>
</html>
